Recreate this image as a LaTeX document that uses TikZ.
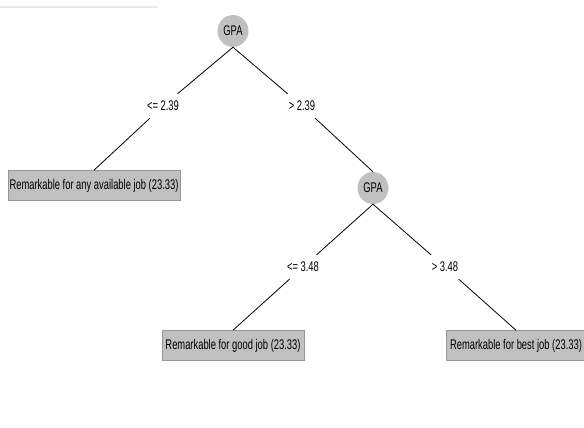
\documentclass[tikz,border=0pt]{standalone}
\usepackage{fontspec}
\setmainfont[FakeStretch=0.67]{Liberation Sans}
\usetikzlibrary{shapes.geometric}
\definecolor{nodegray}{RGB}{192,192,192}
\definecolor{edgegray}{RGB}{150,150,150}
\begin{document}
\begin{tikzpicture}[x=1pt,y=-1pt,
  every node/.style={font=\fontsize{14}{16}\selectfont},
  splitnode/.style={ellipse,fill=nodegray,minimum width=31pt,minimum height=32pt,inner sep=0pt},
  leafbox/.style={rectangle,fill=nodegray,draw=edgegray,line width=0.6pt,minimum height=30pt,inner sep=0pt},
  edgelabel/.style={fill=white,inner xsep=2pt,inner ysep=7pt},
  branch/.style={draw=black,line width=0.8pt}]
\useasboundingbox (0,0) rectangle (584,428);
\draw[black!8,line width=2pt] (0,7) -- (158,7);
\node[splitnode] (root) at (233,31) {GPA};
\node[splitnode] (gpa2) at (373,188) {GPA};
\node[leafbox,minimum width=172pt] (leaf1) at (94,185.5) {Remarkable for any available job (23.33)};
\node[leafbox,minimum width=142pt] (leaf2) at (233,345.5) {Remarkable for good job (23.33)};
\node[leafbox,minimum width=140pt] (leaf3) at (516,345.5) {Remarkable for best job (23.33)};
\node[edgelabel] (l1) at (163,106) {<= 2.39};
\node[edgelabel] (l2) at (302,106) {> 2.39};
\node[edgelabel] (l3) at (303,267) {<= 3.48};
\node[edgelabel] (l4) at (445,267) {> 3.48};
\draw[branch] (root.south) -- (l1);
\draw[branch] (l1) -- (leaf1.north);
\draw[branch] (root.south) -- (l2);
\draw[branch] (l2) -- (gpa2.north);
\draw[branch] (gpa2.south) -- (l3);
\draw[branch] (l3) -- (leaf2.north);
\draw[branch] (gpa2.south) -- (l4);
\draw[branch] (l4) -- (leaf3.north);
\end{tikzpicture}
\end{document}
